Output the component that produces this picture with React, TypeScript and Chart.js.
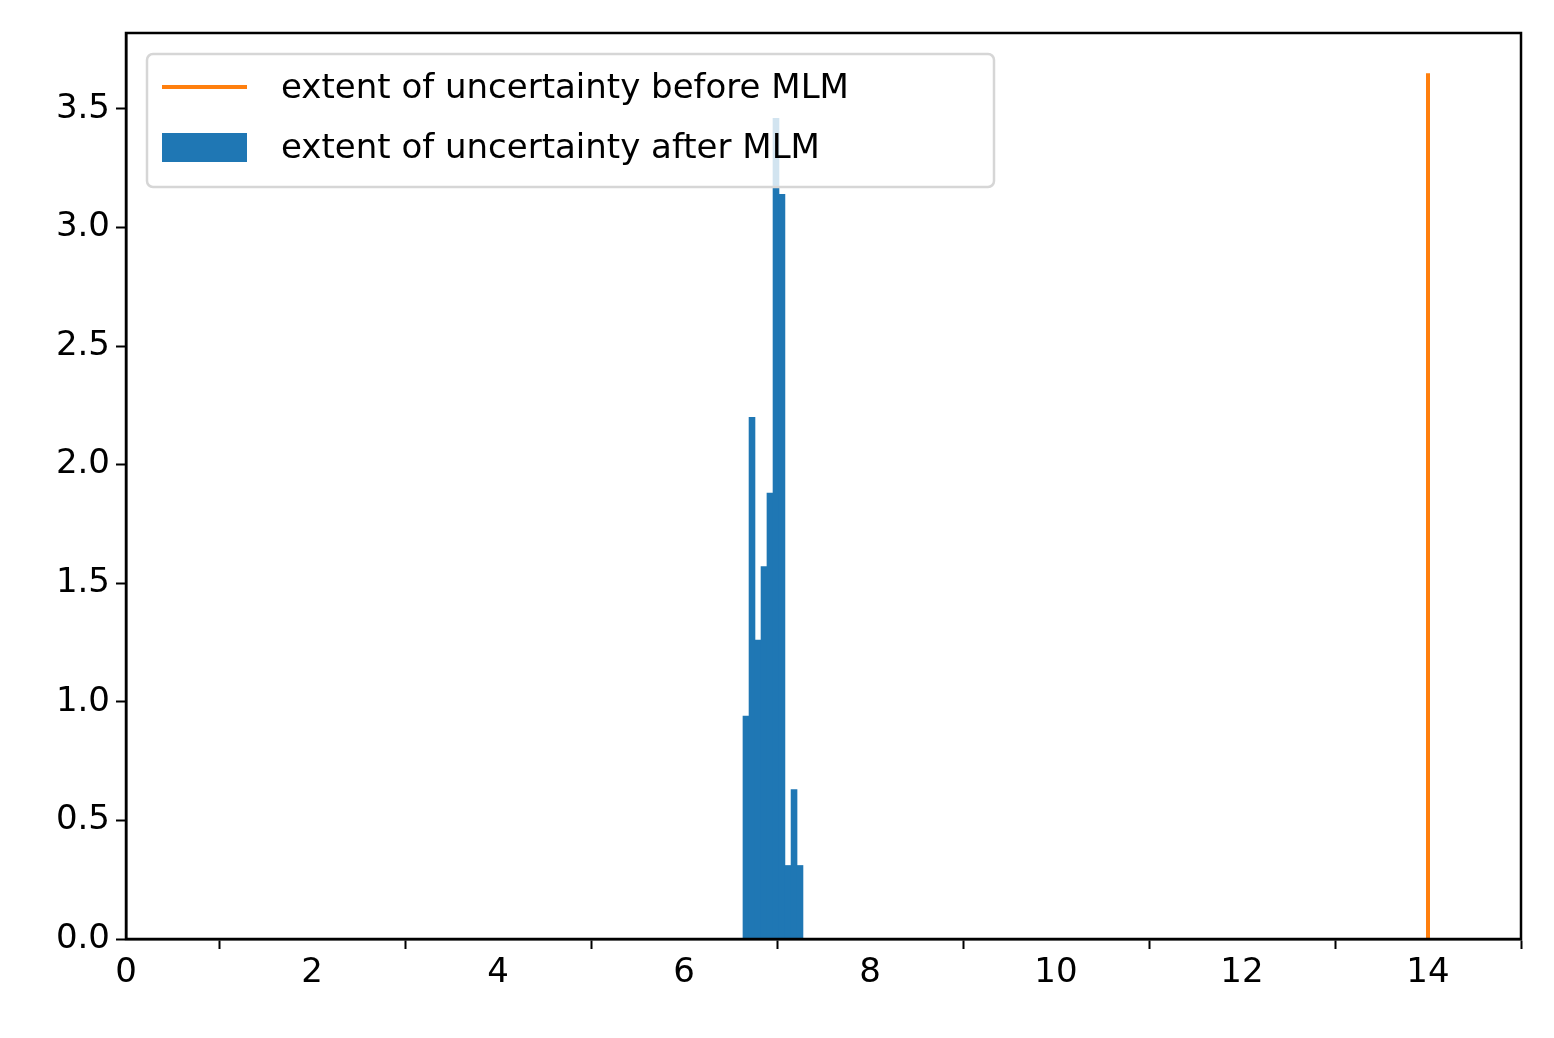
import { useEffect, useRef } from "react";
import { Chart, registerables } from "chart.js";

Chart.register(...registerables);

const binStarts = [6.634, 6.699, 6.763, 6.828, 6.892, 6.957, 7.021, 7.086, 7.151, 7.215];
const binHeights = [0.94, 2.2, 1.26, 1.57, 1.88, 3.46, 3.14, 0.31, 0.63, 0.31];
const binWidth = 0.0645;
const beforeX = 14;
const beforeTop = 3.65;
const xTicks = [0, 2, 4, 6, 8, 10, 12, 14];
const yTicks = [0, 0.5, 1, 1.5, 2, 2.5, 3, 3.5];
const legendLabels = ["extent of uncertainty before MLM", "extent of uncertainty after MLM"];

const FONT = "DejaVu Sans";
const SIZE = 34;

const legendPlugin = {
  id: "boxLegend",
  afterDraw(chart: Chart) {
    const { ctx, chartArea } = chart;
    const x = chartArea.left + 21;
    const y = chartArea.top + 21;
    const w = 847;
    const h = 133;
    ctx.save();
    ctx.fillStyle = "rgba(255,255,255,0.8)";
    ctx.strokeStyle = "#d6d6d6";
    ctx.lineWidth = 2.5;
    ctx.beginPath();
    ctx.roundRect(x, y, w, h, 6);
    ctx.fill();
    ctx.stroke();
    ctx.strokeStyle = "#ff7f0e";
    ctx.lineWidth = 4;
    ctx.beginPath();
    ctx.moveTo(x + 15, y + 33);
    ctx.lineTo(x + 100, y + 33);
    ctx.stroke();
    ctx.fillStyle = "#1f77b4";
    ctx.fillRect(x + 15, y + 79, 85, 29);
    ctx.fillStyle = "#000";
    ctx.font = `${SIZE}px "${FONT}"`;
    ctx.textBaseline = "middle";
    ctx.fillText(legendLabels[0], x + 134, y + 35);
    ctx.fillText(legendLabels[1], x + 134, y + 95);
    ctx.restore();
  },
};

export default function App() {
  const canvasRef = useRef<HTMLCanvasElement>(null);

  useEffect(() => {
    document.body.style.margin = "0";
    const ctx = canvasRef.current?.getContext("2d");
    if (!ctx) return;
    const chart = new Chart(ctx, {
      type: "bar",
      data: {
        datasets: [
          {
            type: "bar",
            data: binStarts.map((s, i) => ({ x: s + binWidth / 2, y: binHeights[i] })),
            backgroundColor: "#1f77b4",
            barPercentage: 1,
            categoryPercentage: 1,
            grouped: false,
          },
          {
            type: "line",
            data: [
              { x: beforeX, y: 0 },
              { x: beforeX, y: beforeTop },
            ],
            borderColor: "#ff7f0e",
            borderWidth: 4,
            pointRadius: 0,
          } as any,
        ],
      },
      options: {
        responsive: false,
        animation: false,
        devicePixelRatio: 1,
        layout: { padding: { top: 33, right: 33, left: 0, bottom: 0 } },
        plugins: { legend: { display: false }, tooltip: { enabled: false } },
        scales: {
          x: {
            type: "linear",
            min: 0,
            max: 15,
            offset: false,
            afterBuildTicks: (s: any) => {
              s.ticks = xTicks.map((v) => ({ value: v }));
            },
            afterFit: (s: any) => {
              s.height = 99;
            },
            ticks: { color: "#000", font: { family: FONT, size: SIZE }, padding: 4, maxRotation: 0 },
            grid: { display: true, drawOnChartArea: false, drawTicks: true, tickLength: 10, tickColor: "#000", tickWidth: 2 } as any,
            border: { color: "#000", width: 2.5 },
          },
          y: {
            min: 0,
            max: 3.82,
            afterBuildTicks: (s: any) => {
              s.ticks = yTicks.map((v) => ({ value: v }));
            },
            afterFit: (s: any) => {
              s.width = 126;
            },
            ticks: {
              color: "#000",
              font: { family: FONT, size: SIZE },
              padding: 6,
              callback: (v: any) => Number(v).toFixed(1),
            },
            grid: { display: true, drawOnChartArea: false, drawTicks: true, tickLength: 10, tickColor: "#000", tickWidth: 2 } as any,
            border: { color: "#000", width: 2.5 },
          },
        },
      },
      plugins: [
        legendPlugin,
        {
          id: "frame",
          afterDraw(c: Chart) {
            const { ctx: g, chartArea: a } = c;
            g.save();
            g.strokeStyle = "#000";
            g.lineWidth = 2.5;
            g.strokeRect(a.left, a.top, a.right - a.left, a.bottom - a.top);
            g.restore();
          },
        },
      ],
    });
    return () => chart.destroy();
  }, []);

  return <canvas ref={canvasRef} width={1554} height={1038} style={{ display: "block", background: "#fff" }} />;
}
